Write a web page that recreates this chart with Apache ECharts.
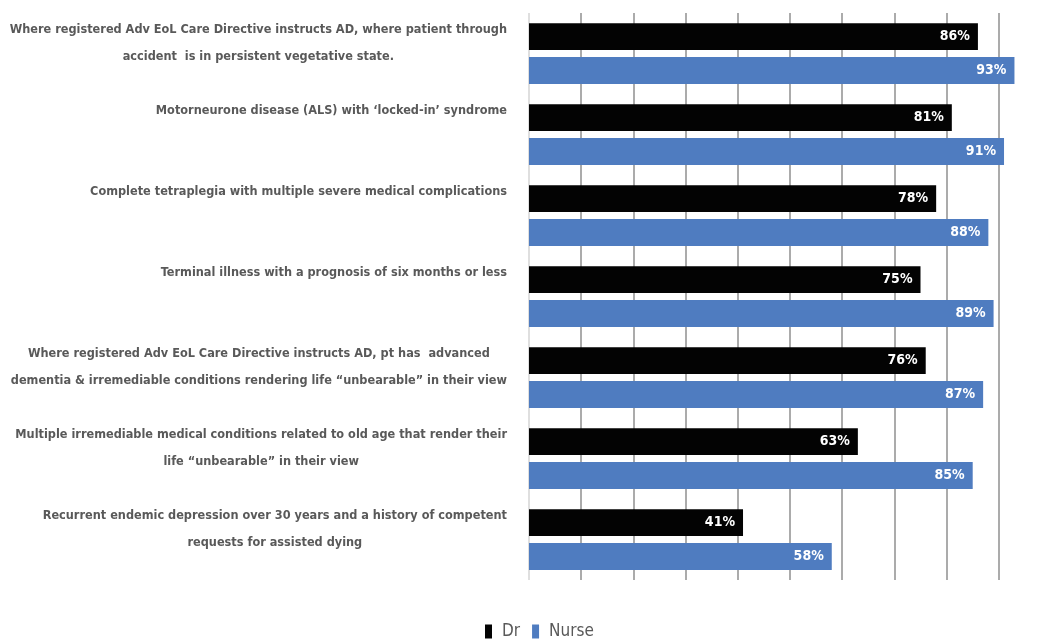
<!DOCTYPE html>
<html>
<head>
<meta charset="utf-8">
<script src="https://cdn.jsdelivr.net/npm/echarts@6/dist/echarts.min.js"></script>
<style>
  html, body { margin: 0; padding: 0; background: #fff; }
  #chart { width: 1040px; height: 640px; }
</style>
</head>
<body>
<div id="chart"></div>
<script>
// Scenarios (line breaks mark how each label wraps)
const categories = [
  'Where registered Adv EoL Care Directive instructs AD, where patient through\naccident  is in persistent vegetative state.',
  'Motorneurone disease (ALS) with \u2018locked-in\u2019 syndrome',
  'Complete tetraplegia with multiple severe medical complications',
  'Terminal illness with a prognosis of six months or less',
  'Where registered Adv EoL Care Directive instructs AD, pt has  advanced\ndementia & irremediable conditions rendering life \u201cunbearable\u201d in their view',
  'Multiple irremediable medical conditions related to old age that render their\nlife \u201cunbearable\u201d in their view',
  'Recurrent endemic depression over 30 years and a history of competent\nrequests for assisted dying'
];

// Percentage in favour, by profession
const drValues = [86, 81, 78, 75, 76, 63, 41];
const nurseValues = [93, 91, 88, 89, 87, 85, 58];

const seriesNames = ['Dr', 'Nurse'];

const FONT = '"DejaVu Sans Condensed", "Liberation Sans Narrow", Arial, sans-serif';
const TEXT_GREY = '#595959';

// Split lines: first one (the axis at 0) is pale, the rest mid grey
const gridColors = ['#d4d4d4'].concat(new Array(10).fill('#8f8f8f'));

const chart = echarts.init(document.getElementById('chart'), null, { renderer: 'canvas' });

const valueLabel = {
  show: true,
  position: 'insideRight',
  distance: 8,
  formatter: '{c}%',
  color: '#ffffff',
  fontFamily: FONT,
  fontWeight: 'bold',
  fontSize: 14
};

chart.setOption({
  animation: false,
  backgroundColor: '#ffffff',
  grid: { left: 529, right: -11, top: 13, bottom: 60, outerBoundsMode: 'none', containLabel: false },
  legend: {
    data: seriesNames,
    left: 485,
    top: 623,
    padding: 0,
    icon: 'rect',
    itemWidth: 7,
    itemHeight: 14,
    itemGap: 12,
    textStyle: { fontFamily: FONT, fontSize: 17, color: TEXT_GREY, padding: [0, 0, 0, 5] }
  },
  xAxis: {
    type: 'value',
    min: 0,
    max: 100,
    interval: 10,
    axisLabel: { show: false },
    axisLine: { show: false },
    axisTick: { show: false },
    splitLine: { show: true, lineStyle: { color: gridColors, width: 1.5 } }
  },
  yAxis: {
    type: 'category',
    inverse: true,
    data: categories,
    axisLine: { show: false },
    axisTick: { show: false },
    axisLabel: {
      margin: 22,
      align: 'right',
      verticalAlign: 'middle',
      padding: [7, 0, 0, 0],
      formatter: function (value) {
        const lines = value.split('\n');
        while (lines.length < 3) lines.push(' ');
        return lines.map(l => '{c|' + l + '}').join('\n');
      },
      rich: {
        c: {
          align: 'center',
          lineHeight: 27,
          fontFamily: FONT,
          fontWeight: 'bold',
          fontSize: 12.6,
          color: TEXT_GREY
        }
      }
    }
  },
  series: [
    {
      name: seriesNames[0],
      type: 'bar',
      data: drValues,
      barGap: '26%',
      barCategoryGap: '25%',
      itemStyle: { color: '#030303' },
      label: valueLabel
    },
    {
      name: seriesNames[1],
      type: 'bar',
      data: nurseValues,
      itemStyle: { color: '#4f7cc0' },
      label: valueLabel
    }
  ]
});
</script>
</body>
</html>
